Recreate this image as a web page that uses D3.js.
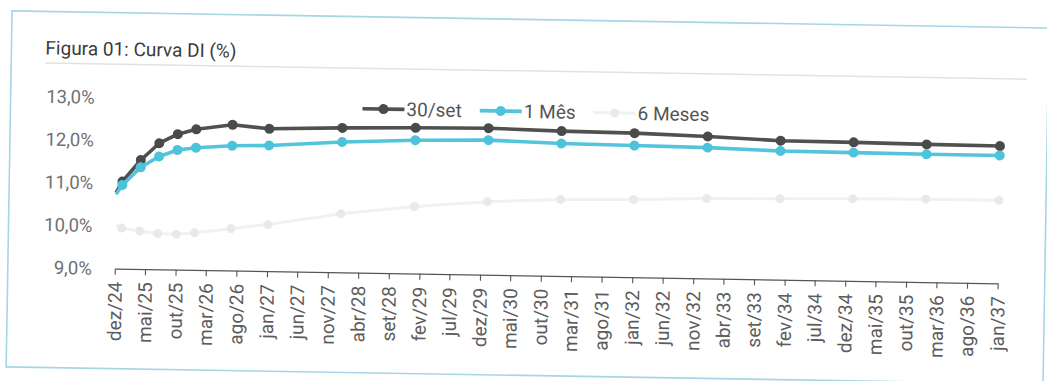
<!DOCTYPE html>
<html>
<head>
<meta charset="utf-8">
<script src="https://cdn.jsdelivr.net/npm/d3@7"></script>
<style>
  html, body { margin: 0; padding: 0; background: #ffffff; }
  svg { display: block; font-family: Roboto, "Noto Sans", "DejaVu Sans", sans-serif; }
</style>
</head>
<body>
<svg id="chart" width="1047" height="381"></svg>
<script>
// Vertices of the DI curve (contract maturities)
const vertices = ["2024-12", "2025-01", "2025-04", "2025-07", "2025-10", "2026-01", "2026-07",
  "2027-01", "2028-01", "2029-01", "2030-01", "2031-01", "2032-01", "2033-01", "2034-01",
  "2035-01", "2036-01", "2037-01"];

// Rates (% a.a.) for each curve
const curva30set = [10.78, 11.04, 11.55, 11.95, 12.17, 12.29, 12.41, 12.33, 12.38, 12.41,
  12.43, 12.39, 12.37, 12.32, 12.25, 12.24, 12.22, 12.21];
const curva1Mes = [10.74, 10.96, 11.38, 11.64, 11.80, 11.86, 11.92, 11.94, 12.05, 12.12,
  12.15, 12.10, 12.08, 12.06, 12.01, 12.00, 11.99, 11.99];
const curva6Meses = [10.02, 9.95, 9.89, 9.84, 9.83, 9.87, 9.98, 10.09, 10.37, 10.57,
  10.71, 10.79, 10.82, 10.87, 10.89, 10.92, 10.94, 10.94];

const seriesNames = ["30/set", "1 Mês", "6 Meses"];
const yTickValues = [9, 10, 11, 12, 13];
const xTickLabels = ["dez/24", "mai/25", "out/25", "mar/26", "ago/26", "jan/27", "jun/27",
  "nov/27", "abr/28", "set/28", "fev/29", "jul/29", "dez/29", "mai/30", "out/30", "mar/31",
  "ago/31", "jan/32", "jun/32", "nov/32", "abr/33", "set/33", "fev/34", "jul/34", "dez/34",
  "mai/35", "out/35", "mar/36", "ago/36", "jan/37"];
const titleText = "Figura 01: Curva DI (%)";

const monthNames = ["jan", "fev", "mar", "abr", "mai", "jun", "jul", "ago", "set", "out", "nov", "dez"];
const parseVertex = s => { const [y, m] = s.split("-").map(Number); return new Date(y, m - 1, 1); };
const parseTickLabel = s => { const [m, y] = s.split("/"); return new Date(2000 + Number(y), monthNames.indexOf(m), 1); };

const styles = [
  { color: "#505050", markerColor: "#4a4a4a", width: 3.6, r: 5 },
  { color: "#52c4dc", markerColor: "#4cc2db", width: 3.6, r: 5 },
  { color: "#f1f1f1", markerColor: "#e9e9e9", width: 3, r: 4.5 }
];

const seriesData = [curva30set, curva1Mes, curva6Meses].map((vals, i) => ({
  name: seriesNames[i],
  style: styles[i],
  points: vertices.map((d, j) => ({ date: parseVertex(d), value: vals[j] }))
}));

const svg = d3.select("#chart");
// the printed page sits slightly tilted
const root = svg.append("g").attr("transform", "rotate(0.95,560,200)");

// card frame
root.append("rect")
  .attr("x", 9).attr("y", 20).attr("width", 1037).attr("height", 356)
  .attr("fill", "none").attr("stroke", "#a6d5e6").attr("stroke-width", 1.6);

// title + separator
root.append("text")
  .attr("x", 43).attr("y", 63)
  .attr("font-size", 19).attr("fill", "#3c3c3c")
  .text(titleText);
root.append("line")
  .attr("x1", 43).attr("x2", 1025).attr("y1", 71.5).attr("y2", 71.5)
  .attr("stroke", "#e2e2e2").attr("stroke-width", 1.5);

// scales
const x = d3.scaleTime()
  .domain([parseTickLabel(xTickLabels[0]), parseTickLabel(xTickLabels[xTickLabels.length - 1])])
  .range([116, 999]);
const y = d3.scaleLinear().domain([9, 13]).range([276, 105]);

// y axis (labels only)
const yAxis = root.append("g")
  .attr("transform", "translate(101,0)")
  .call(d3.axisLeft(y).tickValues(yTickValues).tickSize(0).tickPadding(8)
    .tickFormat(v => v.toFixed(1).replace(".", ",") + "%"));
yAxis.select(".domain").remove();
yAxis.selectAll("text")
  .attr("font-family", "Roboto, 'Noto Sans', sans-serif")
  .attr("font-size", 18.5).attr("fill", "#707070");

// x axis
const tickDates = xTickLabels.map(parseTickLabel);
const xAxis = root.append("g")
  .attr("transform", `translate(0,${y(9)})`)
  .call(d3.axisBottom(x).tickValues(tickDates).tickSize(6).tickSizeOuter(0)
    .tickFormat((d, i) => xTickLabels[i]));
xAxis.select(".domain").attr("stroke", "#555").attr("stroke-width", 1.3);
xAxis.selectAll(".tick line").attr("stroke", "#555").attr("stroke-width", 1.1);
xAxis.selectAll("text")
  .attr("font-family", "Roboto, 'Noto Sans', sans-serif")
  .attr("font-size", 19).attr("fill", "#5c5c5c")
  .attr("transform", "rotate(-90)")
  .attr("text-anchor", "end")
  .attr("x", -13).attr("y", 0).attr("dy", "0.35em");

// series lines and markers
const line = d3.line().x(d => x(d.date)).y(d => y(d.value));
const drawOrder = [2, 0, 1];
drawOrder.forEach(i => {
  const s = seriesData[i];
  const g = root.append("g");
  g.append("path")
    .datum(s.points)
    .attr("d", line)
    .attr("fill", "none")
    .attr("stroke", s.style.color)
    .attr("stroke-width", s.style.width)
    .attr("stroke-linejoin", "round");
  // the first vertex is the curve's starting point and carries no marker
  g.selectAll("circle")
    .data(s.points.slice(1))
    .join("circle")
    .attr("cx", d => x(d.date))
    .attr("cy", d => y(d.value))
    .attr("r", s.style.r)
    .attr("fill", s.style.markerColor);
});

// legend
const legend = root.append("g").attr("transform", "translate(361,112)");
let lx = 0;
seriesData.forEach(s => {
  const item = legend.append("g").attr("transform", `translate(${lx},0)`);
  const len = 42;
  item.append("line")
    .attr("x1", 0).attr("x2", len).attr("y1", 0).attr("y2", 0)
    .attr("stroke", s.style.color).attr("stroke-width", s.style.width);
  item.append("circle")
    .attr("cx", len / 2).attr("cy", 0).attr("r", s.style.r)
    .attr("fill", s.style.markerColor);
  const t = item.append("text")
    .attr("x", len + 2).attr("y", 0).attr("dy", "0.35em")
    .attr("font-size", 19).attr("fill", "#555")
    .text(s.name);
  lx += len + 2 + t.node().getComputedTextLength() + 18;
});
</script>
</body>
</html>
